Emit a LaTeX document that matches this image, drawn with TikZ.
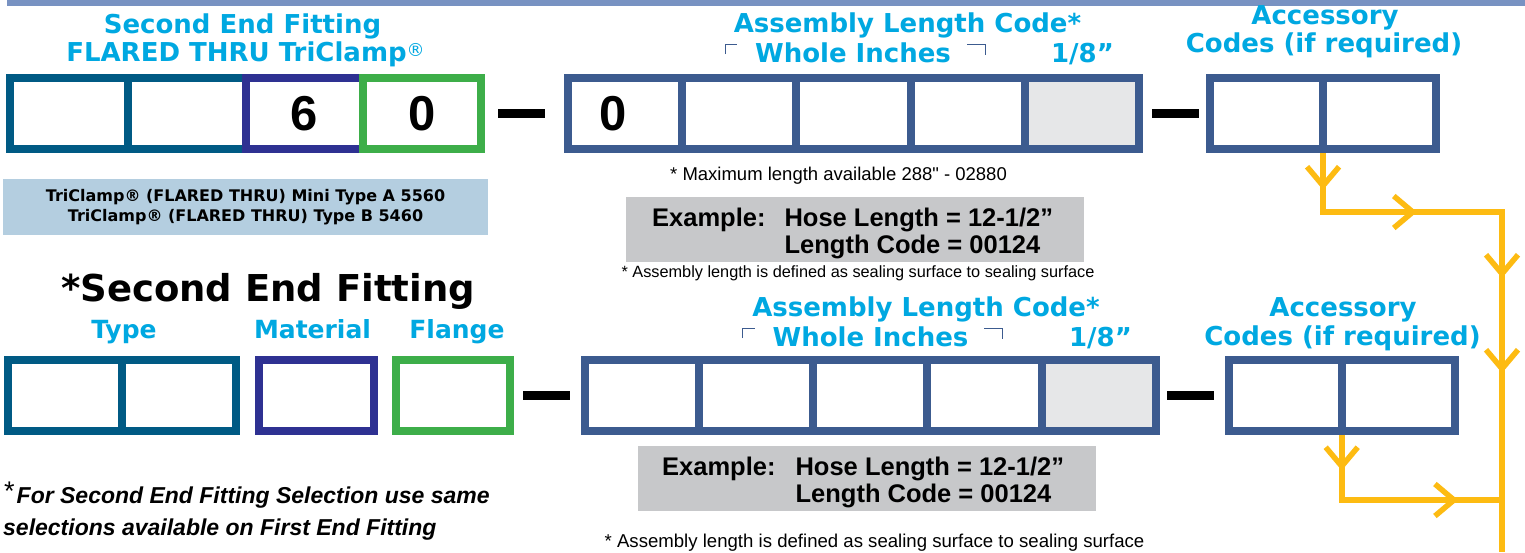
\documentclass[tikz,border=0pt]{standalone}
\usepackage{fontspec}
\setmainfont{DejaVu Sans}
\newfontfamily\arialfont{Liberation Sans}[Ligatures=TeXOff]
\usepackage{xcolor}
\usepackage{tikz}
\usetikzlibrary{arrows.meta,positioning,decorations.markings}
\definecolor{cCyan}{HTML}{00A8E1}
\definecolor{cTeal}{HTML}{005A84}
\definecolor{cPurple}{HTML}{2E3192}
\definecolor{cGreen}{HTML}{3DAE49}
\definecolor{cSlate}{HTML}{3C5B8F}
\definecolor{cBar}{HTML}{7892C2}
\definecolor{cNote}{HTML}{B4CEE0}
\definecolor{cGreyBox}{HTML}{C7C8CA}
\definecolor{cFill}{HTML}{E6E7E8}
\definecolor{cGold}{HTML}{FDBB12}
\newcommand{\regmark}{\raisebox{5pt}{\mdseries\fontsize{18}{18}\selectfont ®}}
\tikzset{
  cell/.style    = {draw=#1, line width=8pt, minimum width=114.2pt,
                    minimum height=71pt, inner sep=0pt, outer sep=0pt,
                    font=\arialfont\bfseries\fontsize{49}{49}\selectfont},
  digit/.style   = {inner sep=0pt, font=\arialfont\bfseries\fontsize{49}{49}\selectfont},
  hyphbar/.style = {fill=black, minimum width=47pt, minimum height=9pt,
                    inner sep=0pt, outer sep=0pt},
  head/.style    = {text=cCyan, inner sep=0pt,
                    font=\bfseries\fontsize{26}{28}\selectfont},
  brk/.style     = {draw=cSlate, line width=1.8pt},
  notebox/.style = {fill=cNote, minimum width=485pt, minimum height=56pt,
                    align=center, inner sep=0pt,
                    font=\bfseries\fontsize{16}{20}\selectfont},
  exbox/.style   = {fill=cGreyBox, minimum width=458pt, minimum height=65pt,
                    inner sep=0pt},
  extext/.style  = {inner sep=0pt,
                    font=\arialfont\bfseries\fontsize{25.5}{27}\selectfont},
  small/.style   = {inner sep=0pt, font=\arialfont\fontsize{#1}{#1}\selectfont},
  gold/.style    = {draw=cGold, line width=6pt},
  chev/.style    = {postaction={decorate, decoration={markings,
                    mark=at position #1 with
                    {\arrow{Straight Barb[length=19pt, width=32pt, line width=5.5pt]}}}}},
}
\begin{document}
\begin{tikzpicture}[x=1pt, y=-1pt]
  \fill[white] (0,0) rectangle (1525,552);
  \useasboundingbox (0,0) rectangle (1525,552);
  \fill[cBar] (7,0) rectangle (1525,5.5);

  % first row: second end fitting, length code, accessories
  \node[head, anchor=base] (hdA) at (242.5,33) {Second End Fitting};
  \node[head, anchor=base] (hdB) at (245.5,61) {FLARED THRU TriClamp\regmark};
  \node[cell=cTeal, minimum width=117.75pt] (f1) at (68.9,113.5) {};
  \node[cell=cTeal, minimum width=117.75pt, right=0pt of f1] (f2) {};
  \node[cell=cPurple, minimum width=117.75pt, right=0pt of f2] (f3) {6};
  \node[cell=cGreen, minimum width=117.75pt, right=0pt of f3] (f4) {0};
  \node[hyphbar, right=17pt of f4] (d1) {};
  \node[cell=cSlate, right=23pt of d1] (a1) {};
  \node[cell=cSlate, right=0pt of a1] (a2) {};
  \node[cell=cSlate, right=0pt of a2] (a3) {};
  \node[cell=cSlate, right=0pt of a3] (a4) {};
  \node[cell=cSlate, fill=cFill, right=0pt of a4] (a5) {};
  \node[hyphbar, right=13pt of a5] (d2) {};
  \node[cell=cSlate, minimum width=113pt, right=11pt of d2] (c1) {};
  \node[cell=cSlate, minimum width=113pt, right=0pt of c1] (c2) {};
  \node[digit] (a1d) at ([xshift=-12pt]a1.center) {0};

  \node[notebox] (nb) at (245.5,207)
    {TriClamp® (FLARED THRU) Mini Type A 5560\\TriClamp® (FLARED THRU) Type B 5460};
  \node[head, anchor=base] (alcA) at (907.5,32) {Assembly Length Code*};
  \node[head, anchor=base] (whiA) at (853,62) {Whole Inches};
  \draw[brk] (725.5,54) -- (725.5,44.5) -- (737,44.5);
  \draw[brk] (967,44.5) -- (985.5,44.5) -- (985.5,55);
  \node[head, anchor=base] (eigA) at (1082.5,62) {1/8”};
  \node[head, anchor=base] (accA) at (1325,24) {Accessory};
  \node[head, anchor=base] (codA) at (1324,52) {Codes (if required)};
  \node[small=18.5, anchor=base west] (maxA) at (670,180)
    {* Maximum length available 288" - 02880};
  \node[exbox] (exA) at (855,229.5) {};
  \node[extext, anchor=base west] (exAt) at (652,226)
    {\begin{tabular}[t]{@{}l@{\hspace{19pt}}l@{}}Example: & Hose Length = 12-1/2”\\ & Length Code = 00124\end{tabular}};
  \node[small=16.3, anchor=base] (defA) at (858,277)
    {* Assembly length is defined as sealing surface to sealing surface};

  % second row
  \node[anchor=base west, inner sep=0pt, font=\bfseries\fontsize{37}{40}\selectfont]
    (hdC) at (61,301) {*Second End Fitting};
  \node[head, anchor=base, font=\bfseries\fontsize{25}{27}\selectfont] (lbT) at (124,338) {Type};
  \node[head, anchor=base, font=\bfseries\fontsize{25}{27}\selectfont] (lbM) at (312.5,338) {Material};
  \node[head, anchor=base, font=\bfseries\fontsize{25}{27}\selectfont] (lbF) at (457,338) {Flange};
  \node[cell=cTeal] (t1) at (65,395) {};
  \node[cell=cTeal, right=0pt of t1] (t2) {};
  \node[cell=cPurple, right=23pt of t2] (m1) {};
  \node[cell=cGreen, right=22pt of m1] (g1) {};
  \node[hyphbar, right=13pt of g1] (d3) {};
  \node[cell=cSlate, right=15pt of d3] (b1) {};
  \node[cell=cSlate, right=0pt of b1] (b2) {};
  \node[cell=cSlate, right=0pt of b2] (b3) {};
  \node[cell=cSlate, right=0pt of b3] (b4) {};
  \node[cell=cSlate, fill=cFill, right=0pt of b4] (b5) {};
  \node[hyphbar, right=11pt of b5] (d4) {};
  \node[cell=cSlate, minimum width=113pt, right=15pt of d4] (e1) {};
  \node[cell=cSlate, minimum width=113pt, right=0pt of e1] (e2) {};

  \node[head, anchor=base] (alcB) at (926,316) {Assembly Length Code*};
  \node[head, anchor=base] (whiB) at (870.5,346) {Whole Inches};
  \draw[brk] (742.5,338) -- (742.5,328.5) -- (755,328.5);
  \draw[brk] (984,328.5) -- (1002.5,328.5) -- (1002.5,339);
  \node[head, anchor=base] (eigB) at (1100.5,346) {1/8”};
  \node[head, anchor=base] (accB) at (1343,316) {Accessory};
  \node[head, anchor=base] (codB) at (1342.5,345) {Codes (if required)};
  \node[exbox] (exB) at (866.5,478.5) {};
  \node[extext, anchor=base west] (exBt) at (662,475)
    {\begin{tabular}[t]{@{}l@{\hspace{20pt}}l@{}}Example: & Hose Length = 12-1/2”\\ & Length Code = 00124\end{tabular}};
  \node[small=18.6, anchor=base] (defB) at (874.5,547)
    {* Assembly length is defined as sealing surface to sealing surface};
  \node[small=23, anchor=base west] (fnA) at (4,503)
    {\raisebox{3pt}{\fontsize{27}{27}\selectfont*}\hspace{2pt}\textbf{\textit{For Second End Fitting Selection use same}}};
  \node[small=23, anchor=base west] (fnB) at (3,535)
    {\textbf{\textit{selections available on First End Fitting}}};

  % accessory flow lines
  \coordinate (gStartA) at ([yshift=-4pt]c1.south east);
  \coordinate (gRailTop) at (1502,212);
  \coordinate (gRailEnd) at (1502,552);
  \coordinate (gStartB) at ([yshift=-4pt]e1.south east);
  \coordinate (gJoin) at (1502,500);
  \draw[gold, chev=37pt, chev=153pt, chev=304pt, chev=399pt]
    (gStartA) |- (gRailTop) -- (gRailEnd);
  \draw[gold, chev=36pt, chev=182pt] (gStartB) |- (gJoin);
\end{tikzpicture}
\end{document}
